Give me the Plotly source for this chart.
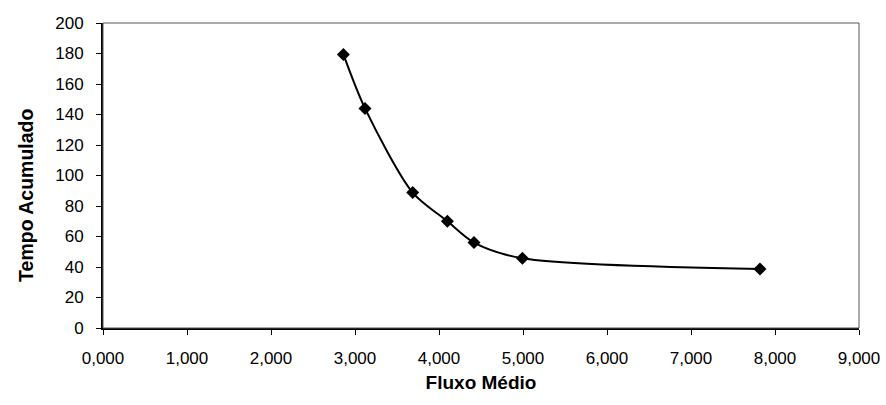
import plotly.graph_objects as go

fluxo = [2862, 3119, 3687, 4100, 4417, 4993, 7821]
tempo = [179.4, 144.0, 88.8, 70.0, 56.0, 45.7, 38.7]

x_tickvals = [0, 1000, 2000, 3000, 4000, 5000, 6000, 7000, 8000, 9000]
x_ticktext = ["0,000", "1,000", "2,000", "3,000", "4,000", "5,000", "6,000", "7,000", "8,000", "9,000"]
y_tickvals = [0, 20, 40, 60, 80, 100, 120, 140, 160, 180, 200]

fig = go.Figure()
fig.add_trace(go.Scatter(
    x=fluxo, y=tempo, mode="lines+markers",
    line=dict(color="black", width=2, shape="spline", smoothing=0.8),
    marker=dict(symbol="diamond", size=10, color="black"),
    showlegend=False,
))

font = dict(family="Liberation Sans, Arial, sans-serif", size=17, color="black")

fig.update_layout(
    width=886, height=405,
    margin=dict(l=103, r=27, t=23, b=77),
    paper_bgcolor="white", plot_bgcolor="white",
    font=font,
    shapes=[dict(type="rect", xref="paper", yref="paper", x0=0, y0=0, x1=1, y1=1,
                 line=dict(color="#555555", width=1), layer="above")],
    annotations=[dict(text="<b>Tempo Acumulado</b>", textangle=-90,
                      xref="paper", yref="paper", x=-0.102, y=0.436,
                      xanchor="center", yanchor="middle", showarrow=False,
                      font=dict(size=19.5))],
)
fig.update_xaxes(
    range=[0, 9000], tickvals=x_tickvals, ticktext=x_ticktext,
    showgrid=False, zeroline=False, automargin=False,
    showline=True, linecolor="black", linewidth=2,
    ticks="outside", ticklen=5, tickcolor="black", tickwidth=1,
    ticklabelstandoff=9,
    title=dict(text="<b>Fluxo Médio</b>", standoff=8, font=dict(size=19)),
)
fig.update_yaxes(
    range=[0, 200], tickvals=y_tickvals,
    showgrid=False, zeroline=False, automargin=False,
    showline=True, linecolor="black", linewidth=2,
    ticks="outside", ticklen=5, tickcolor="black", tickwidth=1,
    ticklabelstandoff=9,
)

# remove the page's default body margin so the 886x405 figure fills the window exactly
fig.write_html("out.html", config={"displayModeBar": False},
               post_script="document.body.style.margin='0';document.body.style.overflow='hidden';")
